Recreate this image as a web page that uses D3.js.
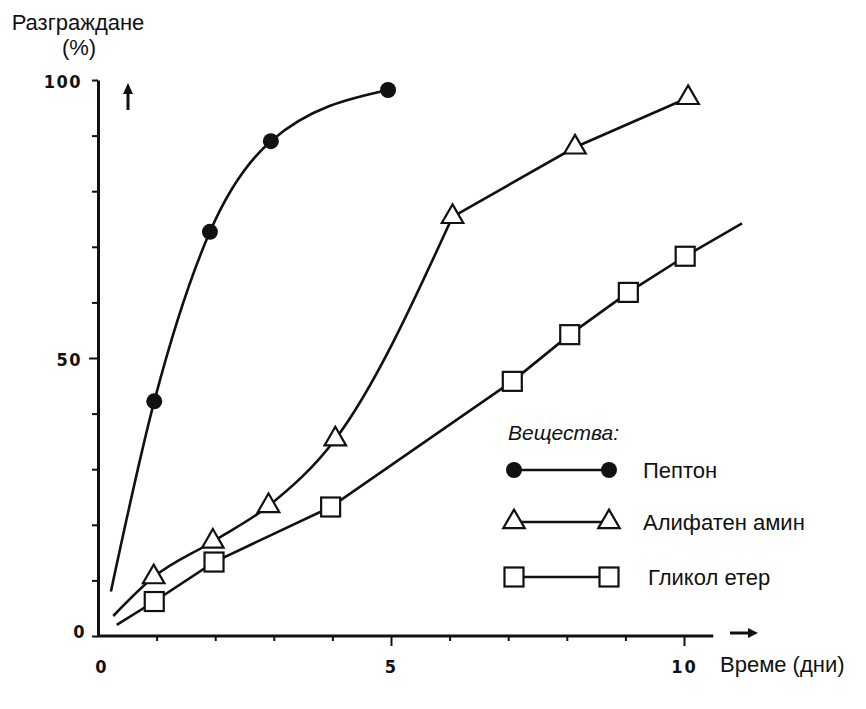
<!DOCTYPE html>
<html>
<head>
<meta charset="utf-8">
<script src="https://cdn.jsdelivr.net/npm/d3@7"></script>
<style>
  body { margin: 0; background: #fff; }
  .lbl { font-family: Arial, "Liberation Sans", sans-serif; fill: #111; }
  .tick text { font-family: "DejaVu Sans Condensed", sans-serif; font-weight: bold; fill: #111; }
</style>
</head>
<body>
<div class="chart"></div>
<script>
// Data
const peptonX = [0.22, 0.96, 1.91, 2.95, 4.95]
const peptonY = [8, 42.2, 72.7, 89, 98.2]
const peptonMarks = [false, true, true, true, true]

const aminX = [0.26, 0.95, 1.96, 2.91, 4.05, 6.05, 8.14, 10.07]
const aminY = [3.6, 10.6, 17, 23.4, 35.4, 75.4, 87.9, 96.8]
const aminMarks = [false, true, true, true, true, true, true, true]

const eterX = [0.32, 0.96, 1.98, 3.97, 7.07, 8.05, 9.05, 10.02, 10.99]
const eterY = [2, 6.2, 13.3, 23.2, 45.8, 54.2, 61.8, 68.3, 74.2]
const eterMarks = [false, true, true, true, true, true, true, true, false]

const yTicks = [0, 10, 20, 30, 40, 50, 60, 70, 80, 90, 100]
const yLabels = [0, 50, 100]
const xTicks = [1, 2, 3, 4, 5, 6, 7, 8, 9, 10]
const xLabels = [0, 5, 10]

const legendNames = ['Пептон', 'Алифатен амин', 'Гликол етер']

const W = 866, H = 709

const x = d3.scaleLinear().domain([0, 10]).range([98, 684])
const y = d3.scaleLinear().domain([0, 100]).range([636, 80])

const svg = d3.select('.chart').append('svg')
  .attr('width', W).attr('height', H)

// y axis
const yAxis = d3.axisLeft(y)
  .tickValues(yTicks)
  .tickSize(6)
  .tickSizeOuter(0)
  .tickFormat(d => yLabels.includes(d) ? d : '')
const yg = svg.append('g').attr('transform', `translate(${x(0)},0)`).call(yAxis)
yg.select('.domain').attr('stroke-width', 3).attr('stroke', '#111')
yg.selectAll('.tick line').attr('stroke-width', 2).attr('stroke', '#111')
  .attr('x2', d => d === 50 ? -9 : -6)
yg.selectAll('.tick text').attr('font-size', 18).attr('x', d => d === 0 ? -12 : -16)
  .attr('letter-spacing', 1.5)
  .attr('dy', d => d === 0 ? '0.1em' : '0.4em')

// x axis
const xAxis = d3.axisBottom(x)
  .tickValues(xTicks)
  .tickSizeOuter(0)
  .tickFormat(d => xLabels.includes(d) ? d : '')
const xg = svg.append('g').attr('transform', `translate(0,${y(0)})`).call(xAxis)
xg.select('.domain').remove()
xg.selectAll('.tick line').attr('stroke-width', 2).attr('stroke', '#111')
  .attr('y2', d => d % 5 === 0 ? 10 : 5)
xg.selectAll('.tick text').attr('font-size', 18).attr('y', 24).attr('letter-spacing', 2)
xg.append('g').attr('class', 'tick').attr('transform', `translate(${x(0) + 3},0)`)
  .append('text').text('0').attr('font-size', 18).attr('y', 24).attr('dy', '0.71em')
  .attr('text-anchor', 'middle').attr('fill', '#111')
svg.append('line')
  .attr('x1', x(0)).attr('x2', x(10.5))
  .attr('y1', y(0)).attr('y2', y(0))
  .attr('stroke', '#111').attr('stroke-width', 3)

// arrows
svg.append('line').attr('x1', 730).attr('x2', 750).attr('y1', 633).attr('y2', 633)
  .attr('stroke', '#111').attr('stroke-width', 3)
svg.append('path').attr('d', 'M758,633 L748,628 L748,638 Z').attr('fill', '#111')
svg.append('line').attr('x1', 128).attr('x2', 128).attr('y1', 110).attr('y2', 92)
  .attr('stroke', '#111').attr('stroke-width', 3)
svg.append('path').attr('d', 'M128,83 L123,94 L133,94 Z').attr('fill', '#111')

// labels
svg.append('text').attr('class', 'lbl').text('Разграждане')
  .attr('x', 78).attr('y', 30).attr('text-anchor', 'middle').attr('font-size', 22)
svg.append('text').attr('class', 'lbl').text('(%)')
  .attr('x', 79).attr('y', 55).attr('text-anchor', 'middle').attr('font-size', 22)
svg.append('text').attr('class', 'lbl').text('Време (дни)')
  .attr('x', 720).attr('y', 672).attr('font-size', 22)

// lines
const toPts = (xs, ys, ms) => xs.map((v, i) => ({ x: v, y: ys[i], m: ms[i] }))
const pepton = toPts(peptonX, peptonY, peptonMarks)
const amin = toPts(aminX, aminY, aminMarks)
const eter = toPts(eterX, eterY, eterMarks)

const lineCurve = d3.line().x(d => x(d.x)).y(d => y(d.y)).curve(d3.curveMonotoneX)
const lineLin = d3.line().x(d => x(d.x)).y(d => y(d.y))

const lines = svg.append('g').attr('fill', 'none').attr('stroke', '#111').attr('stroke-width', 2.6)
lines.append('path').datum(pepton).attr('d', lineCurve)
lines.append('path').datum(amin.slice(0, 6)).attr('d', lineCurve)
lines.append('path').datum(amin.slice(5)).attr('d', lineLin)
lines.append('path').datum(eter).attr('d', lineLin)

// markers
const tri = d3.symbol().type(d3.symbolTriangle).size(200)
const drawCircle = (g, cx, cy) => g.append('circle').attr('cx', cx).attr('cy', cy).attr('r', 8)
  .attr('fill', '#111')
const drawTri = (g, cx, cy) => g.append('path').attr('d', tri())
  .attr('transform', `translate(${cx},${cy})`)
  .attr('fill', '#fff').attr('stroke', '#111').attr('stroke-width', 2.2)
const drawSq = (g, cx, cy) => g.append('rect').attr('x', cx - 9.5).attr('y', cy - 9.5)
  .attr('width', 19).attr('height', 19)
  .attr('fill', '#fff').attr('stroke', '#111').attr('stroke-width', 2.2)

const marks = svg.append('g')
pepton.filter(d => d.m).forEach(d => drawCircle(marks, x(d.x), y(d.y)))
amin.filter(d => d.m).forEach(d => drawTri(marks, x(d.x), y(d.y)))
eter.filter(d => d.m).forEach(d => drawSq(marks, x(d.x), y(d.y)))

// legend
const lg = svg.append('g')
lg.append('text').attr('class', 'lbl').text('Вещества:')
  .attr('x', 508).attr('y', 440).attr('font-size', 21).attr('font-style', 'italic')
const rowY = [470, 522, 577]
const drawers = [drawCircle, drawTri, drawSq]
rowY.forEach((ry, i) => {
  lg.append('line').attr('x1', 515).attr('x2', 608).attr('y1', ry).attr('y2', ry)
    .attr('stroke', '#111').attr('stroke-width', 2.6)
  drawers[i](lg, 514, ry)
  drawers[i](lg, 609, ry)
  lg.append('text').attr('class', 'lbl').text(legendNames[i])
    .attr('x', i === 2 ? 648 : 643).attr('y', ry + 8).attr('font-size', 22)
})
</script>
</body>
</html>
